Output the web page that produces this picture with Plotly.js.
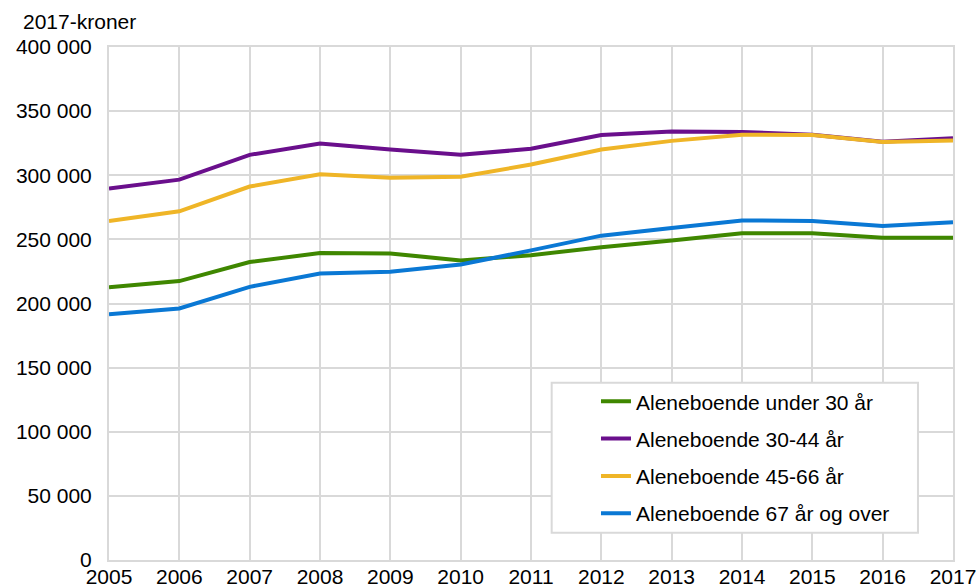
<!DOCTYPE html>
<html>
<head>
<meta charset="utf-8">
<script src="https://cdn.plot.ly/plotly-3.0.1.min.js"></script>
<style>html,body{margin:0;padding:0;background:#fff;}#chart{width:977px;height:585px;}</style>
</head>
<body>
<div id="chart"></div>
<script>
const years = [2005, 2006, 2007, 2008, 2009, 2010, 2011, 2012, 2013, 2014, 2015, 2016, 2017];
const yearLabels = ["2005", "2006", "2007", "2008", "2009", "2010", "2011", "2012", "2013", "2014", "2015", "2016", "2017"];
const seriesNames = ["Aleneboende under 30 år", "Aleneboende 30-44 år", "Aleneboende 45-66 år", "Aleneboende 67 år og over"];
const under30 = [212700, 217500, 232300, 239300, 239000, 233600, 237700, 243900, 249200, 254700, 254700, 251300, 251300];
const age30to44 = [289600, 296600, 315900, 324800, 320100, 315900, 320600, 331300, 334100, 333800, 331500, 326200, 328900];
const age45to66 = [264300, 271900, 291200, 300800, 298000, 298800, 308400, 320100, 326800, 331600, 331400, 326000, 327100];
const age67plus = [191700, 196100, 213000, 223400, 224700, 230400, 241400, 252900, 258800, 264800, 264300, 260400, 263300];
const yTicks = [0, 50000, 100000, 150000, 200000, 250000, 300000, 350000, 400000];
const yTickLabels = ["0", "50 000", "100 000", "150 000", "200 000", "250 000", "300 000", "350 000", "400 000"];
const unitLabel = "2017-kroner";

const colors = ["#3f8700", "#6a0f8c", "#efb527", "#0a78d4"];
const values = [under30, age30to44, age45to66, age67plus];

const traces = values.map((v, i) => ({
  type: "scatter",
  mode: "lines",
  x: years,
  y: v,
  name: seriesNames[i],
  legendgroup: "g" + i,
  line: {color: colors[i], width: 4},
  hoverinfo: "x+y+name"
}));

const grid = "#d9d9d9";
const layout = {
  width: 977,
  height: 585,
  margin: {l: 109, r: 24, t: 47, b: 25, pad: 0},
  paper_bgcolor: "#ffffff",
  plot_bgcolor: "#ffffff",
  font: {family: "Liberation Sans, Arial, sans-serif", size: 21, color: "#000000"},
  showlegend: true,
  legend: {
    x: 0.5770, y: 0.3486, xanchor: "left", yanchor: "top",
    bgcolor: "rgba(0,0,0,0)", borderwidth: 0,
    font: {size: 21, color: "#000000"},
    tracegroupgap: 7
  },
  xaxis: {
    range: [2005, 2017],
    tickvals: years,
    ticktext: yearLabels,
    showgrid: true, gridcolor: grid, gridwidth: 2,
    showline: true, linecolor: grid, linewidth: 2, mirror: true,
    zeroline: false, ticks: "", ticklabelstandoff: -3,
    fixedrange: true
  },
  yaxis: {
    range: [0, 400000],
    tickvals: yTicks,
    ticktext: yTickLabels,
    showgrid: true, gridcolor: grid, gridwidth: 2,
    showline: true, linecolor: grid, linewidth: 2, mirror: true,
    zeroline: false, ticks: "", ticklabelstandoff: 11,
    fixedrange: true
  },
  shapes: [{
    type: "rect", xref: "paper", yref: "paper", layer: "above",
    x0: 0.5245, x1: 0.9585, y0: 0.0532, y1: 0.3456,
    fillcolor: "#ffffff", line: {color: grid, width: 2}
  }],
  annotations: [{
    text: unitLabel, xref: "paper", yref: "paper",
    x: -0.1043, y: 1.0493, xanchor: "left", yanchor: "middle",
    showarrow: false, font: {size: 21, color: "#000000"}
  }]
};

Plotly.newPlot("chart", traces, layout, {displayModeBar: false});
</script>
</body>
</html>
